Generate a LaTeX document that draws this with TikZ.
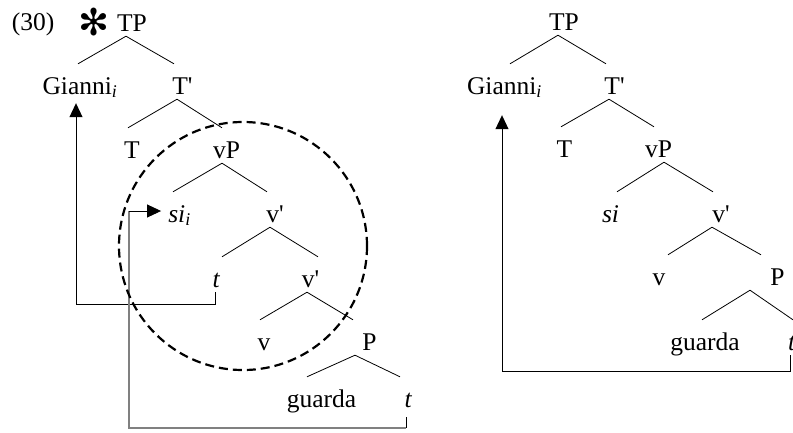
\documentclass[tikz,border=0pt]{standalone}
\usepackage{fontspec}
\setmainfont{Liberation Serif}[Ligatures=TeXOff]
\newfontfamily\dingfont{DejaVu Sans}
\usepackage{tikz}
\usetikzlibrary{arrows.meta}

\begin{document}
\begin{tikzpicture}[x=1pt,y=-1pt,
    lbl/.style={anchor=base,inner sep=0pt,text height=30pt,text depth=5pt,font=\fontsize{25.5}{30}\selectfont},
    branch/.style={line width=0.8pt},
    move/.style={line width=0.9pt,-{Triangle[length=14pt,width=13pt]}},
    greymove/.style={line width=1.5pt,draw=black!50}]
    \useasboundingbox (0,0) rectangle (793,432);
    \clip (0,0) rectangle (793,432);
    % left tree (starred)
    \node[lbl] (num) at (33,30) {(30)};
    \node[inner sep=0pt,font=\dingfont\bfseries\fontsize{37}{37}\selectfont] (star) at (94,22) {✻};
    \node[lbl] (tpL) at (132,31) {TP};
    \node[lbl] (giL) at (80,94) {Gianni\textsubscript{\textit{i}}};
    \node[lbl] (tbL) at (182.5,94) {T'};
    \node[lbl] (tL) at (132,158) {T};
    \node[lbl] (vpL) at (226.5,158) {vP};
    \node[lbl] (siL) at (179.5,222) {\textit{si}\textsubscript{\textit{i}}};
    \node[lbl] (vbL) at (275,222) {v'};
    \node[lbl] (trL) at (216.5,287) {\textit{t}};
    \node[lbl] (vbbL) at (310.5,287) {v'};
    \node[lbl] (vL) at (264,350) {v};
    \node[lbl] (pL) at (369.5,350) {P};
    \node[lbl] (guL) at (321.5,407) {guarda};
    \node[lbl] (tbotL) at (408.5,407) {\textit{t}};
    \draw[branch] ([xshift=-6pt]tpL.south) -- ([xshift=-2pt]giL.north);
    \draw[branch] ([xshift=-6pt]tpL.south) -- ([xshift=-8.5pt]tbL.north);
    \draw[branch] ([xshift=-5.5pt]tbL.south) -- ([xshift=-4pt]tL.north);
    \draw[branch] ([xshift=-5.5pt]tbL.south) -- ([xshift=-4.5pt]vpL.north);
    \draw[branch] ([xshift=-4.5pt]vpL.south) -- ([xshift=-6.5pt]siL.north);
    \draw[branch] ([xshift=-4.5pt]vpL.south) -- ([xshift=-8pt]vbL.north);
    \draw[branch] ([xshift=-5pt]vbL.south) -- ([xshift=5.5pt]trL.north);
    \draw[branch] ([xshift=-5pt]vbL.south) -- ([xshift=7.5pt]vbbL.north);
    \draw[branch] ([xshift=-3.5pt]vbbL.south) -- ([xshift=-4pt]vL.north);
    \draw[branch] ([xshift=-3.5pt]vbbL.south) -- ([xshift=-16.5pt]pL.north);
    \draw[branch] ([xshift=-14.5pt]pL.south) -- ([xshift=-14.5pt]guL.north);
    \draw[branch] ([xshift=-14.5pt]pL.south) -- ([xshift=-8.5pt]tbotL.north);
    % movements
    \draw[move] ([xshift=-1.5pt]trL.south) -- ++(0,12) -| ([xshift=-4pt,yshift=-4pt]giL.south);
    \coordinate (bendL) at (129,211);
    \draw[line width=0.9pt] ([xshift=-2.5pt,yshift=-5pt]tbotL.south) -- ++(0,11);
    \draw[greymove] ([xshift=-2.5pt,yshift=-16pt]tbotL.south) -| (bendL);
    \draw[move,shorten >=7pt] (bendL) -- (bendL -| siL.west);
    \draw[line width=2.2pt,dash pattern=on 9pt off 5pt] (243,246) circle [radius=124];
    % right tree
    \node[lbl] (tpR) at (564,30) {TP};
    \node[lbl] (giR) at (504.5,94) {Gianni\textsubscript{\textit{i}}};
    \node[lbl] (tbR) at (614.5,94) {T'};
    \node[lbl] (tR) at (564.5,157) {T};
    \node[lbl] (vpR) at (658.5,157) {vP};
    \node[lbl] (siR) at (610.5,222) {\textit{si}};
    \node[lbl] (vbR) at (721,222) {v'};
    \node[lbl] (vR) at (659,285) {v};
    \node[lbl] (pR) at (777.5,285) {P};
    \node[lbl] (guR) at (705,350) {guarda};
    \node[lbl] (trR) at (792,350) {\textit{t}};
    \draw[branch] ([xshift=-6pt]tpR.south) -- ([xshift=5.5pt]giR.north);
    \draw[branch] ([xshift=-6pt]tpR.south) -- ([xshift=-8.5pt]tbR.north);
    \draw[branch] ([xshift=-5.5pt]tbR.south) -- ([xshift=-3.5pt]tR.north);
    \draw[branch] ([xshift=-5.5pt]tbR.south) -- ([xshift=-4.5pt]vpR.north);
    \draw[branch] ([xshift=5.5pt]vpR.south) -- ([xshift=6.5pt]siR.north);
    \draw[branch] ([xshift=5.5pt]vpR.south) -- ([xshift=-8pt]vbR.north);
    \draw[branch] ([xshift=-9pt]vbR.south) -- ([xshift=9pt]vR.north);
    \draw[branch] ([xshift=-9pt]vbR.south) -- ([xshift=-16.5pt]pR.north);
    \draw[branch] ([xshift=-27.5pt]pR.south) -- ([xshift=-3pt]guR.north);
    \draw[branch] ([xshift=-27.5pt]pR.south) -- ([xshift=1pt]trR.north);
    \draw[move] ([xshift=-2pt]trR.south) -- ++(0,16) -| ([xshift=-2.5pt,yshift=-16pt]giR.south);
\end{tikzpicture}
\end{document}
